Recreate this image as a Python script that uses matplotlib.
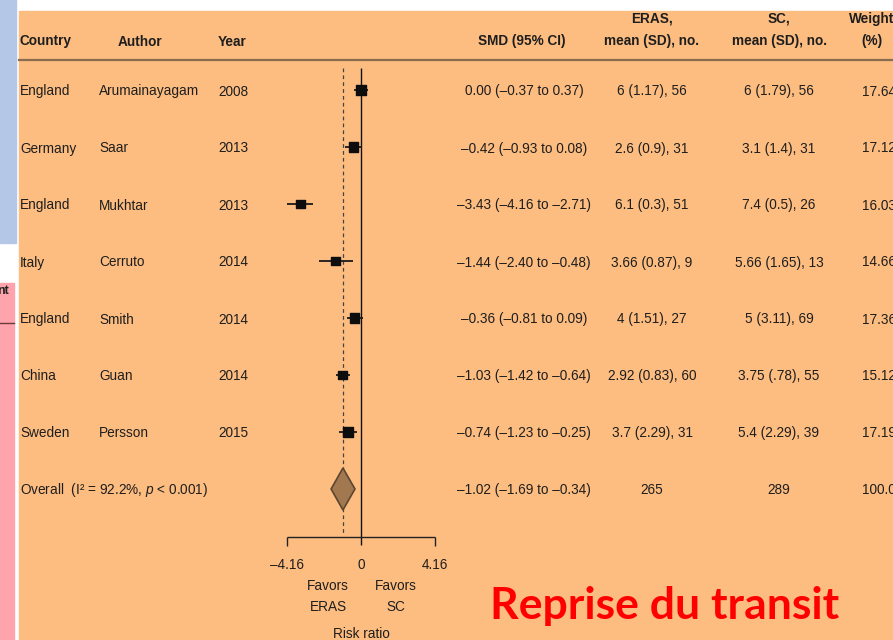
import matplotlib.pyplot as plt
from matplotlib.patches import Rectangle, Polygon
from matplotlib.transforms import blended_transform_factory

plt.rcParams['font.family'] = ['Liberation Sans', 'DejaVu Sans']
plt.rcParams['mathtext.fontset'] = 'custom'
plt.rcParams['mathtext.it'] = 'Liberation Sans:italic'
plt.rcParams['mathtext.rm'] = 'Liberation Sans'

countries = ["England", "Germany", "England", "Italy", "England", "China", "Sweden"]
authors = ["Arumainayagam", "Saar", "Mukhtar", "Cerruto", "Smith", "Guan", "Persson"]
years = [2008, 2013, 2013, 2014, 2014, 2014, 2015]
smd = [0.00, -0.42, -3.43, -1.44, -0.36, -1.03, -0.74]
ci_low = [-0.37, -0.93, -4.16, -2.40, -0.81, -1.42, -1.23]
ci_high = [0.37, 0.08, -2.71, -0.48, 0.09, -0.64, -0.25]
eras = ["6 (1.17), 56", "2.6 (0.9), 31", "6.1 (0.3), 51", "3.66 (0.87), 9",
        "4 (1.51), 27", "2.92 (0.83), 60", "3.7 (2.29), 31"]
sc = ["6 (1.79), 56", "3.1 (1.4), 31", "7.4 (0.5), 26", "5.66 (1.65), 13",
      "5 (3.11), 69", "3.75 (.78), 55", "5.4 (2.29), 39"]
weights = [17.64, 17.12, 16.03, 14.66, 17.36, 15.12, 17.19]
overall = (-1.02, -1.69, -0.34)
overall_n = (265, 289)
axis_ticks = [-4.16, 0, 4.16]

W, H = 893, 640
fig = plt.figure(figsize=(W / 100, H / 100), dpi=100)
ax = fig.add_axes([0, 0, 1, 1])
ax.axis('off')

# x in SMD units (0 at pixel 361, 17.7 px per unit); y in rows (row 0 at pixel 90, 57 px per row)
x0, sx = 361, 17.7
y0, sy = 90, 57
ax.set_xlim(-x0 / sx, (W - x0) / sx)
ax.set_ylim((H - y0) / sy, -y0 / sy)


def ry(px):
    return (px - y0) / sy


# slide background pieces
ax.add_patch(Rectangle((0, 0), 1, 1, transform=ax.transAxes, color='white', zorder=0))
ax.add_patch(Rectangle((0, 1 - 243 / H), 16 / W, 243 / H, transform=ax.transAxes,
                       color='#B4C7E7', zorder=0))
ax.add_patch(Rectangle((0, 0), 14 / W, (H - 283) / H, transform=ax.transAxes,
                       color='#FFA3AC', zorder=0))
ax.add_patch(Rectangle((19 / W, 0), (W - 19) / W, (H - 11) / H, transform=ax.transAxes,
                       color='#FDBD80', zorder=0))
ax.plot([0, 14 / W], [1 - 323 / H] * 2, transform=ax.transAxes, color='#6b3a3a', lw=1)
ax.text(-3 / W, 1 - 291 / H, "nt", transform=ax.transAxes, fontsize=9,
        fontweight='bold', ha='left', va='center', color='#222222')

tr = blended_transform_factory(fig.transFigure, ax.transData)
txt = '#1e1e1e'
fs = 9.8
va = 'baseline'
b = 5.5 / sy  # baseline offset below row centre

# header
hy = ry(40) + b
ax.text(20 / W, hy, "Country", transform=tr, fontsize=fs, fontweight='bold', va=va, color=txt)
ax.text(140 / W, hy, "Author", transform=tr, fontsize=fs, fontweight='bold', va=va, ha='center', color=txt)
ax.text(218 / W, hy, "Year", transform=tr, fontsize=fs, fontweight='bold', va=va, color=txt)
ax.text(522 / W, hy, "SMD (95% CI)", transform=tr, fontsize=fs, fontweight='bold', va=va, ha='center', color=txt)
for cx, top, bottom in [(652, "ERAS,", "mean (SD), no."), (779, "SC,", "mean (SD), no."), (872, "Weight", "(%)")]:
    ax.text(cx / W, ry(17) + b, top, transform=tr, fontsize=fs, fontweight='bold', va=va, ha='center', color=txt)
    ax.text(cx / W, hy, bottom, transform=tr, fontsize=fs, fontweight='bold', va=va, ha='center', color=txt)
ax.plot([19 / W, 1], [ry(60)] * 2, transform=tr, color='#8a6d50', lw=1.6)

# rows
en = '\u2013'
for i in range(len(countries)):
    y = i + b
    ax.text(20 / W, y, countries[i], transform=tr, fontsize=fs, va=va, color=txt)
    ax.text(99 / W, y, authors[i], transform=tr, fontsize=fs, va=va, color=txt)
    ax.text(218 / W, y, str(years[i]), transform=tr, fontsize=fs, va=va, color=txt)
    s = f"{smd[i]:.2f} ({ci_low[i]:.2f} to {ci_high[i]:.2f})".replace('-', en)
    ax.text(524 / W, y, s, transform=tr, fontsize=fs, va=va, ha='center', color=txt)
    ax.text(652 / W, y, eras[i], transform=tr, fontsize=fs, va=va, ha='center', color=txt)
    ax.text(779 / W, y, sc[i], transform=tr, fontsize=fs, va=va, ha='center', color=txt)
    ax.text(862 / W, y, f"{weights[i]:.2f}", transform=tr, fontsize=fs, va=va, color=txt)

rows = list(range(len(smd)))
ax.hlines(rows, ci_low, ci_high, color='#1a1a1a', lw=1.3, zorder=3)
ax.scatter(smd, rows, marker='s', s=[2.6 * w for w in weights], color='#0d0d0d', zorder=4)

# overall row
k = len(smd)
ax.text(20 / W, k + b, r"Overall  (I² = 92.2%, $\it{p}$ < 0.001)", transform=tr, fontsize=fs, va=va, color=txt)
s = f"{overall[0]:.2f} ({overall[1]:.2f} to {overall[2]:.2f})".replace('-', en)
ax.text(524 / W, k + b, s, transform=tr, fontsize=fs, va=va, ha='center', color=txt)
ax.text(652 / W, k + b, str(overall_n[0]), transform=tr, fontsize=fs, va=va, ha='center', color=txt)
ax.text(779 / W, k + b, str(overall_n[1]), transform=tr, fontsize=fs, va=va, ha='center', color=txt)
ax.text(862 / W, k + b, "100.00", transform=tr, fontsize=fs, va=va, color=txt)
dh = 21 / sy
ax.add_patch(Polygon([(overall[1], k), (overall[0], k - dh), (overall[2], k), (overall[0], k + dh)],
                     closed=True, facecolor='#A17850', edgecolor='#5c4630', lw=1.2, zorder=4))

# reference lines
ax.vlines(0, ry(68), ry(545), color='#111111', lw=1.0, zorder=2)
ax.vlines(overall[0], ry(68), ry(535), color='#444444', lw=0.9, linestyles=(0, (3, 2.5)), zorder=2)

# bottom axis bracket
ax.hlines(ry(537), axis_ticks[0], axis_ticks[-1], color='#222222', lw=1.0)
ax.vlines([axis_ticks[0], axis_ticks[-1]], ry(537), ry(546), color='#222222', lw=1.0)
for t in axis_ticks:
    lab = "0" if t == 0 else f"{t:.2f}".replace('-', en)
    ax.text(t, ry(569), lab, fontsize=fs, ha='center', va=va, color=txt)
ax.text(-1.85, ry(590), "Favors", fontsize=fs, ha='center', va=va, color=txt)
ax.text(-1.85, ry(611), "ERAS", fontsize=fs, ha='center', va=va, color=txt)
ax.text(1.99, ry(590), "Favors", fontsize=fs, ha='center', va=va, color=txt)
ax.text(1.99, ry(611), "SC", fontsize=fs, ha='center', va=va, color=txt)
ax.text(0.05, ry(638), "Risk ratio", fontsize=fs, ha='center', va=va, color=txt)

ax.text(665 / W, ry(603), "Reprise du transit", transform=tr, fontsize=32, fontweight='bold',
        family=['Lato', 'DejaVu Sans'], color='#FF0000', ha='center', va='center_baseline')

fig.savefig('out.png', dpi=100)
